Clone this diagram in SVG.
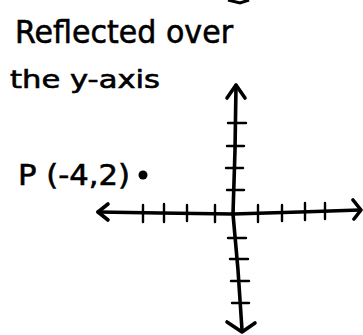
<svg xmlns="http://www.w3.org/2000/svg" width="363" height="335" viewBox="0 0 363 335">
<style>
.ax{fill:none;stroke:#000;stroke-width:3.6;stroke-linecap:round;stroke-linejoin:round}
.tk{fill:none;stroke:#000;stroke-width:2.4;stroke-linecap:round}
.hw{font-family:"DejaVu Sans",sans-serif;fill:#000;stroke:#000;stroke-width:0.6}
</style>
<rect width="363" height="335" fill="#fff"/>
<path d="M228,0 L240,3 L249,0" fill="none" stroke="#000" stroke-width="3"/>
<g id="title">
<text class="hw" x="15" y="43" font-size="32" textLength="218" lengthAdjust="spacingAndGlyphs">Reflected over</text>
<text class="hw" x="10" y="88" font-size="24" textLength="150" lengthAdjust="spacingAndGlyphs">the y-axis</text>
</g>
<g id="point-label">
<text class="hw" x="18" y="185" font-size="29" textLength="112" lengthAdjust="spacingAndGlyphs">P (-4,2)</text>
<circle cx="143" cy="175" r="4.5" fill="#000"/>
</g>
<g id="connectors">
<g id="y-axis">
<path class="ax" d="M236,86 L235,150 L233,214 L238,270 L242,330"/>
<path class="ax" d="M227,98 L236,85 L245,98"/>
<path class="ax" d="M227,322 L242,332 L255,323"/>
<path class="tk" d="M228,123H246 M227,146H244 M226,168H243 M227,190H244 M228,238H246 M230,259H248 M231,281H249 M232,303H249"/>
</g>
<g id="x-axis">
<path class="ax" d="M98,212 L160,213 L233,214 L300,212 L360,210"/>
<path class="ax" d="M108,204 L98,212 L108,220"/>
<path class="ax" d="M353,200 L361,210 L354,219"/>
<path class="tk" d="M143,205V222 M164,204V222 M187,205V221 M215,205V222 M258,205V222 M282,205V221 M305,203V220 M325,203V219"/>
</g>
</g>
</svg>
